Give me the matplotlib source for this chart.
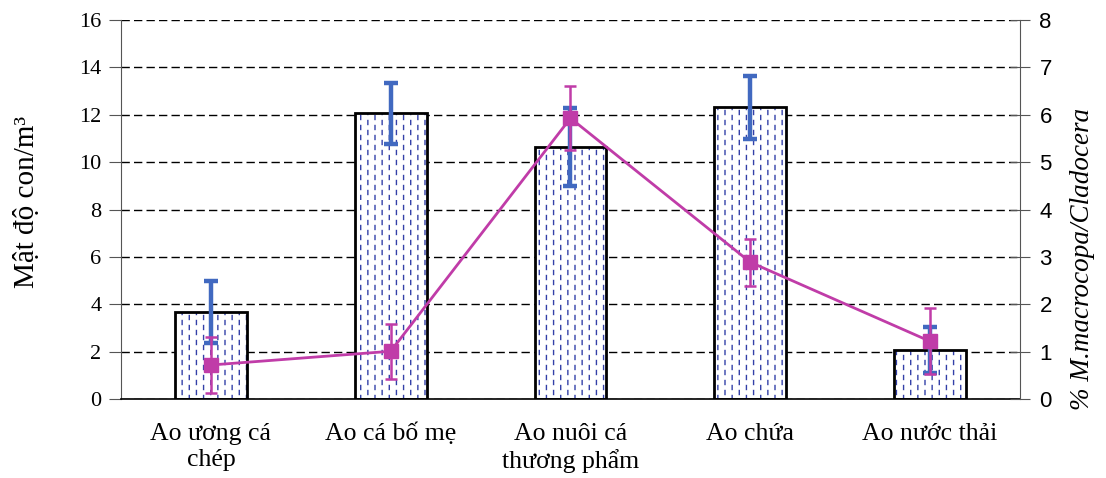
import warnings
import matplotlib
matplotlib.use("Agg")
import matplotlib.pyplot as plt
from matplotlib import hatch as mhatch
from matplotlib.path import Path
import numpy as np

warnings.filterwarnings("ignore")

categories = ["Ao ương cá\nchép", "Ao cá bố mẹ", "Ao nuôi cá\nthương phẩm", "Ao chứa", "Ao nước thải"]
density = [3.67, 12.07, 10.63, 12.32, 2.07]
density_err = [1.3, 1.28, 1.64, 1.33, 0.97]
ratio = [0.72, 1.01, 5.93, 2.89, 1.22]
ratio_err = [0.6, 0.58, 0.68, 0.5, 0.7]


class VDashes(mhatch.HatchPatternBase):
    """Staggered short vertical dashes, selected by '!'."""
    def __init__(self, hatch, density):
        self.ncols = 14 if '!' in hatch else 0
        self.nrows = 10
        self.num_vertices = self.ncols * self.nrows * 2

    def set_vertices_and_codes(self, vertices, codes):
        i = 0
        for c in range(self.ncols):
            xx = (c + 0.5) / self.ncols
            off = 0.055 if c % 2 else 0.005
            for r in range(self.nrows):
                y0 = r / self.nrows + off
                vertices[i] = (xx, y0)
                vertices[i + 1] = (xx, y0 + 0.04)
                codes[i] = Path.MOVETO
                codes[i + 1] = Path.LINETO
                i += 2


mhatch._hatch_types.append(VDashes)
plt.rcParams['hatch.linewidth'] = 1.0

fig = plt.figure(figsize=(11.06, 4.78), dpi=100)
ax = fig.add_axes([0.1094, 0.165, 0.9222 - 0.1094, 0.958 - 0.165])
x = np.arange(len(categories))

ax.set_axisbelow(True)
ax.yaxis.grid(True, linestyle=(0, (6, 3)), color='black', linewidth=1.0)
ax.bar(x, density, width=0.4, color='white', edgecolor='#3340a8', linewidth=0, hatch='!', zorder=2)
ax.bar(x, density, width=0.4, fill=False, edgecolor='black', linewidth=2, zorder=2.5)
ax.errorbar(x, density, yerr=density_err, fmt='none', ecolor='#4169c0', elinewidth=3.2, capsize=5, capthick=3.2, zorder=3)

ax.set_xlim(-0.5, len(categories) - 0.5)
ax.set_ylim(0, 16)
ax.set_yticks(np.arange(0, 17, 2))
ax.set_xticks(x)
ax.set_xticklabels(categories, fontfamily='Liberation Serif', fontsize=18.5, linespacing=1.25)
ax.tick_params(axis='x', length=0, pad=17)
ax.tick_params(axis='y', direction='out', length=9, color='#555555', labelsize=16, pad=5)
for lab in ax.get_yticklabels():
    lab.set_fontfamily('Liberation Serif')
ax.set_ylabel("Mật độ con/m³", fontfamily='Liberation Serif', fontsize=21)
ax.yaxis.set_label_coords(-0.090, 0.52)
ax.spines['top'].set_visible(False)
ax.spines['right'].set_visible(False)
ax.spines['left'].set_color('#555555')
ax.spines['bottom'].set_color('black')
ax.spines['bottom'].set_linewidth(1.2)

ax2 = ax.twinx()
ax2.set_position(ax.get_position())
ax2.plot(x, ratio, color='#c03ca8', linewidth=2, marker='s', markersize=10, zorder=4)
ax2.errorbar(x, ratio, yerr=ratio_err, fmt='none', ecolor='#c03ca8', elinewidth=1.8, capsize=4.5, capthick=1.8, zorder=4)
ax2.set_ylim(0, 8)
ax2.set_yticks(np.arange(0, 9, 1))
ax2.tick_params(axis='y', direction='inout', length=14, color='#555555', labelsize=16, pad=7)
for lab in ax2.get_yticklabels():
    lab.set_fontfamily('Liberation Sans')
ax2.set_ylabel("% M.macrocopa/Cladocera", fontfamily='Liberation Serif', fontstyle='italic', fontsize=19.5)
ax2.yaxis.set_label_coords(1.0556, 0.37)
ax2.spines['top'].set_visible(False)
ax2.spines['left'].set_visible(False)
ax2.spines['bottom'].set_visible(False)
ax2.spines['right'].set_color('#555555')

fig.savefig("out.png", dpi=100)
